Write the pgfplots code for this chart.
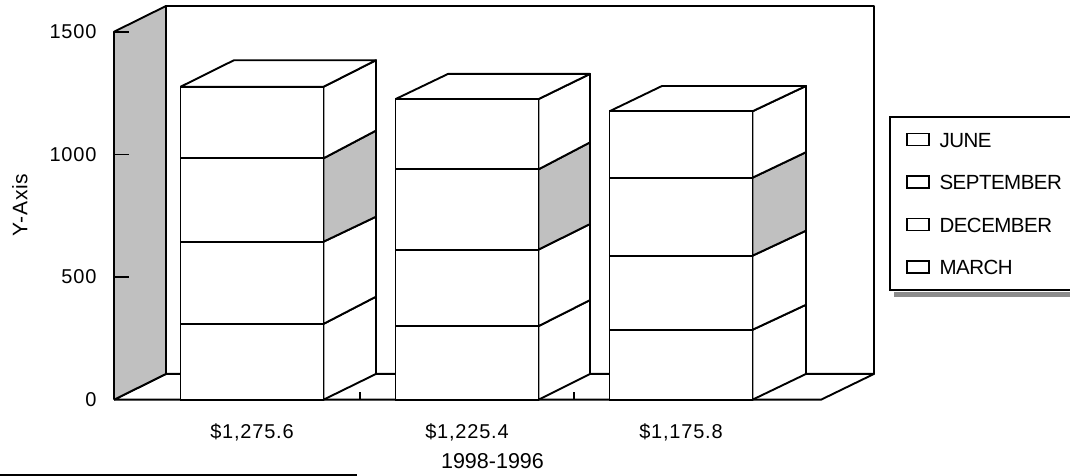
\documentclass[border=0pt]{standalone}
\usepackage{fontspec}
\setmainfont{Liberation Sans}
\newfontfamily\tickfam[LetterSpace=4]{Liberation Sans}
\newfontfamily\legfam[LetterSpace=-2.5]{Liberation Sans}
\usepackage{pgfplots}
\usepackage{pgfplotstable}
\pgfplotsset{compat=1.18}
\definecolor{wallgrey}{HTML}{C0C0C0}

% front faces: segment heights, bottom to top
\pgfplotstableread{
x   march december september june
252 309   335      340       291.6
467 300   312      327       286.4
681 285   302      318       270.8
}\stackdata

% one closed white or grey face of the pseudo 3D box
\newcommand{\face}[2]{\addplot[sharp plot,stack plots=false,forget plot,fill=#1,draw=black,line width=1.9pt,line join=round] coordinates {#2};}
\newcommand{\lab}[1]{\makebox[150pt][l]{\rule[-7pt]{0pt}{24pt}#1}}

\begin{document}
\begin{tikzpicture}[x=1pt,y=1pt]
\useasboundingbox (0,0) rectangle (1070,476);
\fill[gray!90] (894,179) rectangle (1075,184);
\draw[line width=1.6pt] (0,1) -- (357,1);
\begin{axis}[
    at={(114pt,76.3pt)},anchor=south west,
    scale only axis,width=760pt,height=393.7pt,
    xmin=114,xmax=874,ymin=0,ymax=1605,
    clip=false,axis on top,
    ybar stacked,bar width=143pt,reverse stacked plots=false,
    axis line style={draw=none},
    xtick={252,467,681},
    xticklabels={{\$1,275.6},{\$1,225.4},{\$1,175.8}},
    x tick style={draw=none},
    xticklabel style={yshift=-20pt},
    ytick={0,500,1000,1500},
    ytick pos=left,
    tick align=inside,major tick length=15pt,
    y tick style={black,line width=1.6pt},
    /pgf/number format/assume math mode=true,
    /pgf/number format/1000 sep={},
    tick label style={font=\fontsize{20}{24}\tickfam},
    yticklabel style={xshift=-14pt},
    every axis y label/.style={at={(axis description cs:-0.1237,0.4945)},rotate=90,anchor=center,font=\fontsize{21}{24}\tickfam},
    every axis x label/.style={at={(axis description cs:0.498,-0.1557)},anchor=center,font=\fontsize{21.5}{24}\selectfont},
    ylabel={Y-Axis},
    xlabel={1998-1996},
    legend image code/.code={\draw[#1,line width=1.6pt] (0pt,-6pt) rectangle (22pt,6pt);},
    reverse legend,
    legend style={at={(1.0197,0.7214)},anchor=north west,draw=black,line width=1.9pt,
        font=\fontsize{20.5}{24}\legfam,cells={anchor=west},
        nodes={inner xsep=0pt,inner ysep=0pt},
        row sep=24pt,column sep=10pt,inner xsep=16pt,inner ysep=13.75pt},
]
% room: back wall, floor, left wall
\face{white}{(166,105)(166,1605)(874,1605)(874,105)(166,105)}
\face{white}{(114,0)(166,105)(874,105)(821,0)(114,0)}
\face{wallgrey}{(114,0)(114,1500)(166,1605)(166,105)(114,0)}
% small ticks between the categories
\addplot[sharp plot,stack plots=false,forget plot,draw=black,line width=1.6pt] coordinates {(360,0)(360,33)};
\addplot[sharp plot,stack plots=false,forget plot,draw=black,line width=1.6pt] coordinates {(574,0)(574,33)};
% side faces and tops, bar 1
\face{white}{(323.5,0)(376,105)(376,420)(323.5,309)(323.5,0)}
\face{white}{(323.5,309)(376,420)(376,746)(323.5,644)(323.5,309)}
\face{wallgrey}{(323.5,644)(376,746)(376,1097)(323.5,984)(323.5,644)}
\face{white}{(323.5,984)(376,1097)(376,1384)(323.5,1275.6)(323.5,984)}
\face{white}{(180.5,1275.6)(234,1384)(376,1384)(323.5,1275.6)(180.5,1275.6)}
% bar 2
\face{white}{(538.5,0)(590,105)(590,406)(538.5,300)(538.5,0)}
\face{white}{(538.5,300)(590,406)(590,716)(538.5,612)(538.5,300)}
\face{wallgrey}{(538.5,612)(590,716)(590,1049)(538.5,939)(538.5,612)}
\face{white}{(538.5,939)(590,1049)(590,1328)(538.5,1225.4)(538.5,939)}
\face{white}{(395.5,1225.4)(448,1328)(590,1328)(538.5,1225.4)(395.5,1225.4)}
% bar 3
\face{white}{(752.5,0)(806,105)(806,387)(752.5,285)(752.5,0)}
\face{white}{(752.5,285)(806,387)(806,689)(752.5,587)(752.5,285)}
\face{wallgrey}{(752.5,587)(806,689)(806,1009)(752.5,905)(752.5,587)}
\face{white}{(752.5,905)(806,1009)(806,1279)(752.5,1175.8)(752.5,905)}
\face{white}{(609.5,1175.8)(662,1279)(806,1279)(752.5,1175.8)(609.5,1175.8)}
% stacked front faces
\addplot[fill=white,draw=black,line width=1.9pt] table[x=x,y=march] {\stackdata};
\addplot[fill=white,draw=black,line width=1.9pt] table[x=x,y=december] {\stackdata};
\addplot[fill=white,draw=black,line width=1.9pt] table[x=x,y=september] {\stackdata};
\addplot[fill=white,draw=black,line width=1.9pt] table[x=x,y=june] {\stackdata};
\legend{\lab{MARCH},\lab{DECEMBER},\lab{SEPTEMBER},\lab{JUNE}}
\end{axis}
\end{tikzpicture}
\end{document}
